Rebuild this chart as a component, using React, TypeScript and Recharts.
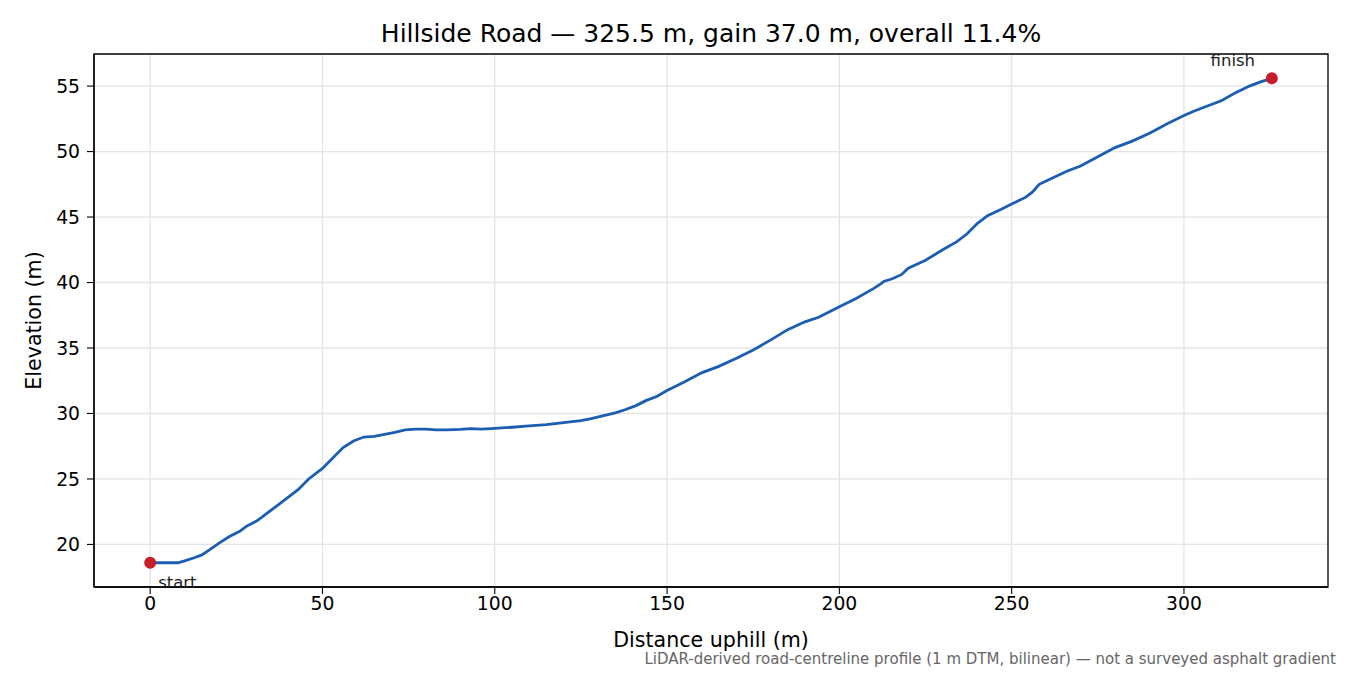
import { ComposedChart, Line, Scatter, XAxis, YAxis, CartesianGrid, ReferenceArea } from 'recharts'

const FONT = '"DejaVu Sans", sans-serif'

const distance = [
  0, 3, 6, 8, 10, 13, 15, 17, 20, 23, 26, 28, 31, 33, 36, 40, 43, 46, 50, 53, 56, 59, 62, 65, 68, 71,
  74, 77, 80, 83, 86, 90, 93, 96, 99, 102, 105, 110, 115, 120, 125, 128, 131, 135, 138, 141, 144, 147,
  150, 155, 160, 165, 170, 175, 180, 185, 190, 194, 197, 200, 205, 210, 212, 213, 215, 218, 220, 225,
  230, 234, 237, 240, 243, 247, 250, 254, 256, 258, 262, 266, 270, 275, 280, 285, 290, 295, 300, 303,
  307, 311, 315, 319, 322, 325.5,
]
const elevation = [
  18.6, 18.6, 18.6, 18.6, 18.75, 19.0, 19.2, 19.55, 20.1, 20.6, 21.0, 21.4, 21.8, 22.2, 22.8, 23.6,
  24.2, 25.0, 25.8, 26.6, 27.4, 27.9, 28.2, 28.25, 28.4, 28.55, 28.75, 28.8, 28.8, 28.75, 28.75, 28.78,
  28.85, 28.8, 28.85, 28.9, 28.95, 29.05, 29.15, 29.3, 29.45, 29.6, 29.8, 30.05, 30.3, 30.6, 31.0, 31.3,
  31.75, 32.4, 33.1, 33.6, 34.2, 34.85, 35.6, 36.4, 37.0, 37.35, 37.75, 38.15, 38.8, 39.55, 39.9, 40.1,
  40.25, 40.6, 41.1, 41.7, 42.5, 43.1, 43.7, 44.5, 45.1, 45.6, 46.0, 46.5, 46.9, 47.5, 48.0, 48.5, 48.9,
  49.6, 50.3, 50.8, 51.4, 52.1, 52.75, 53.1, 53.5, 53.9, 54.5, 55.0, 55.3, 55.6,
]
const endpoints = [
  { x: 0, y: 18.6, name: 'start' },
  { x: 325.5, y: 55.6, name: 'finish' },
]
const xTicks = [0, 50, 100, 150, 200, 250, 300]
const yTicks = [20, 25, 30, 35, 40, 45, 50, 55]
const xDomain = [-16.3, 341.8]
const yDomain = [16.75, 57.45]

const profile = distance.map((d, i) => ({ x: d, y: elevation[i] }))

const EndDot = (props: any) => {
  const { cx, cy, payload } = props
  const isStart = payload.name === 'start'
  return (
    <g>
      <circle cx={cx} cy={cy} r={6} fill="#c41e2a" />
      <text
        x={isStart ? cx + 8 : cx - 39}
        y={isStart ? cy + 25 : cy - 12}
        textAnchor={isStart ? 'start' : 'middle'}
        fontSize={16.5}
        fontFamily={FONT}
        fill="#222"
      >
        {payload.name}
      </text>
    </g>
  )
}

export default function App() {
  const tickStyle = { fontSize: 18.75, fill: '#000', fontFamily: FONT }
  return (
    <div style={{ position: 'absolute', left: 0, top: 0, width: 1350, height: 675, background: '#fff', fontFamily: FONT }}>
      <div style={{ position: 'absolute', left: 94, width: 1234, top: 19, textAlign: 'center', fontSize: 25, lineHeight: '30px', color: '#000' }}>
        Hillside Road — 325.5 m, gain 37.0 m, overall 11.4%
      </div>
      <ComposedChart width={1350} height={675} data={profile} margin={{ top: 54, right: 22, bottom: 24, left: 24 }}>
        <CartesianGrid stroke="#e4e4e4" strokeWidth={1.3} verticalValues={xTicks} horizontalValues={yTicks} />
        <XAxis
          type="number"
          dataKey="x"
          domain={xDomain}
          ticks={xTicks}
          allowDataOverflow
          height={64}
          tick={tickStyle}
          tickSize={7}
          tickMargin={3}
          axisLine={{ stroke: '#000', strokeWidth: 1.3 }}
          tickLine={{ stroke: '#000', strokeWidth: 1.1 }}
          label={{ value: 'Distance uphill (m)', position: 'insideBottom', offset: 4, fontSize: 20.6, fill: '#000', fontFamily: FONT }}
        />
        <YAxis
          type="number"
          dataKey="y"
          domain={yDomain}
          ticks={yTicks}
          allowDataOverflow
          width={70}
          tick={tickStyle}
          tickSize={7}
          tickMargin={7}
          axisLine={{ stroke: '#000', strokeWidth: 1.3 }}
          tickLine={{ stroke: '#000', strokeWidth: 1.1 }}
          label={{ value: 'Elevation (m)', angle: -90, position: 'center', dx: -25, fontSize: 20.6, fill: '#000', fontFamily: FONT }}
        />
        <ReferenceArea x1={xDomain[0]} x2={xDomain[1]} y1={yDomain[0]} y2={yDomain[1]} fill="none" stroke="#000" strokeWidth={1.3} />
        <Line type="linear" dataKey="y" stroke="#1a5db2" strokeWidth={2.8} dot={false} isAnimationActive={false} />
        <Scatter data={endpoints} dataKey="y" shape={EndDot} isAnimationActive={false} />
      </ComposedChart>
      <div style={{ position: 'absolute', right: 14, top: 650, fontSize: 15, lineHeight: '18px', color: '#666' }}>
        LiDAR-derived road-centreline profile (1 m DTM, bilinear) — not a surveyed asphalt gradient
      </div>
    </div>
  )
}
